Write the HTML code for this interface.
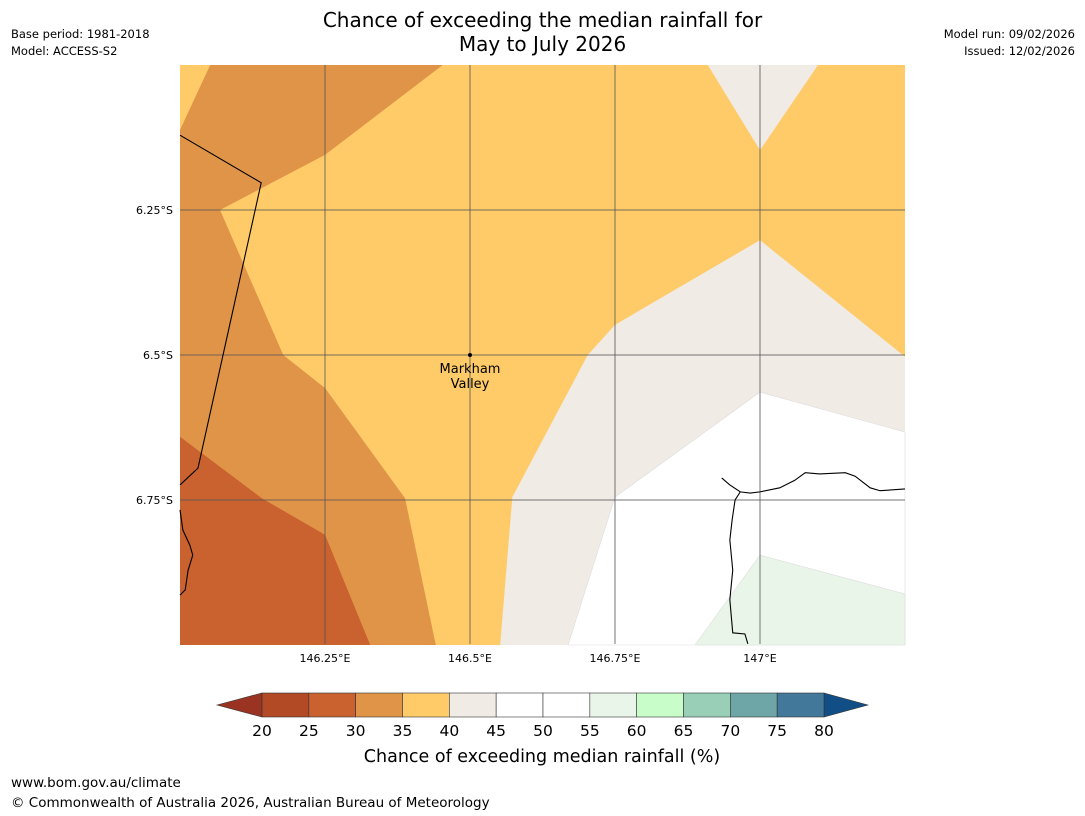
<!DOCTYPE html>
<html><head><meta charset="utf-8"><style>
body{margin:0;background:#fff;font-family:"DejaVu Sans","Liberation Sans",sans-serif;}
#wrap{position:relative;width:1085px;height:816px;overflow:hidden;}
.t{position:absolute;font-size:11.5px;color:#000;}
</style></head><body>
<div id="wrap">
<div class="t" style="left:0;width:1085px;top:8px;text-align:center;font-size:20px;line-height:24px;">Chance of exceeding the median rainfall for<br>May to July 2026</div>
<div class="t" style="left:11px;top:26px;line-height:17px;">Base period: 1981-2018<br>Model: ACCESS-S2</div>
<div class="t" style="right:10px;top:26px;line-height:17px;text-align:right;">Model run: 09/02/2026<br>Issued: 12/02/2026</div>
<div class="t" style="left:11px;top:775px;font-size:13.5px;">www.bom.gov.au/climate</div>
<div class="t" style="left:11px;top:795px;font-size:13.5px;">© Commonwealth of Australia 2026, Australian Bureau of Meteorology</div>
<svg id="svg" width="1085" height="816" style="position:absolute;left:0;top:0"></svg>
</div>
<script>
const regionNames=['r35','r40','r40b','r45','r55','r30','r25'];
const regionColors=['#fecb68','#f0ebe5','#f0ebe5','#ffffff','#e9f5e9','#e09448','#c9622f'];
const regions=[
 [[146,6],[147.25,6],[147.25,7],[146,7]],
 [[146.91,6],[147.1,6],[147,6.147]],
 [[147.25,6.503],[147,6.302],[146.75,6.448],[146.703,6.5],[146.573,6.745],[146.552,7],[147.25,7]],
 [[146.669,7],[146.75,6.745],[147,6.564],[147.25,6.633],[147.25,7]],
 [[146.888,7],[147,6.845],[147.25,6.912],[147.25,7]],
 [[146.052,6],[146.453,6],[146.25,6.155],[146.069,6.25],[146.178,6.5],[146.25,6.557],[146.388,6.747],[146.441,7],[146,7],[146,6.112]],
 [[146,6.641],[146.141,6.747],[146.25,6.81],[146.328,7],[146,7]]
];
const lonTicks=[146.25,146.5,146.75,147];
const lonLabels=['146.25°E','146.5°E','146.75°E','147°E'];
const latTicks=[6.25,6.5,6.75];
const latLabels=['6.25°S','6.5°S','6.75°S'];
const border=[[146,6.121],[146.14,6.203],[146.031,6.695],[146,6.724]];
const coastW=[[146,6.767],[146.005,6.802],[146.017,6.828],[146.022,6.845],[146.014,6.871],[146.009,6.905],[146,6.914]];
const coastE=[[146.934,6.712],[146.948,6.724],[146.966,6.736],[146.983,6.738],[147.0,6.736],[147.034,6.729],[147.06,6.716],[147.078,6.703],[147.103,6.705],[147.147,6.703],[147.164,6.709],[147.19,6.729],[147.207,6.734],[147.25,6.731]];
const coastS=[[146.966,6.736],[146.957,6.75],[146.952,6.784],[146.948,6.819],[146.953,6.871],[146.948,6.922],[146.953,6.979],[146.974,6.981],[146.979,6.998]];
const markLon=146.5, markLat=6.5;
const cbBounds=[20,25,30,35,40,45,50,55,60,65,70,75,80];
const cbColors=['#b24a25','#c9622f','#e09448','#fecb68','#f0ebe5','#ffffff','#ffffff','#e9f5e9','#c8fcc8','#9acfb7','#6ea5a6','#427899'];

const X0=180,X1=905,Y0=65,Y1=644;
const xs=l=>X0+(l-146)*580, ys=l=>Y0+(l-6)*580;
const svg=document.getElementById('svg');
const NS='http://www.w3.org/2000/svg';
function mk(tag,attrs,parent){const e=document.createElementNS(NS,tag);for(const k in attrs)e.setAttribute(k,attrs[k]);(parent||svg).appendChild(e);return e;}
const pts=a=>a.map(p=>xs(p[0])+','+ys(p[1])).join(' ');
regions.forEach((r,i)=>{const p=mk('polygon',{points:pts(r),fill:regionColors[i],stroke:i==3||i==4?'#ddd':'none','stroke-width':0.6});

});
lonTicks.forEach((t,i)=>{const l=mk('line',{x1:xs(t),x2:xs(t),y1:Y0,y2:Y1,stroke:'#555','stroke-width':1,opacity:0.8});


const tx=mk('text',{x:xs(t),y:Y1+18,'text-anchor':'middle','font-size':11});tx.textContent=lonLabels[i];

});
latTicks.forEach((t,i)=>{const l=mk('line',{x1:X0,x2:X1,y1:ys(t),y2:ys(t),stroke:'#555','stroke-width':1,opacity:0.8});


const tx=mk('text',{x:X0-7,y:ys(t)+4,'text-anchor':'end','font-size':11});tx.textContent=latLabels[i];

});
[border,coastW,coastE,coastS].forEach(a=>{const p=mk('polyline',{points:pts(a),fill:'none',stroke:'#000','stroke-width':1.1});

});
const dot=mk('circle',{cx:xs(markLon),cy:ys(markLat),r:2,fill:'#000'});


const lb=mk('text',{x:xs(markLon),y:ys(markLat)+18,'text-anchor':'middle','font-size':13});


const t1=mk('tspan',{x:xs(markLon)},lb);t1.textContent='Markham';
const t2=mk('tspan',{x:xs(markLon),dy:15},lb);t2.textContent='Valley';
const CB0=262,CB1=824,CBT=693,CBB=717;
const cx=v=>CB0+(v-20)/60*(CB1-CB0);
const l1=mk('polygon',{points:`217,705 ${CB0},${CBT} ${CB0},${CBB}`,fill:'#9b3322',stroke:'#333','stroke-width':0.6});


const r1=mk('polygon',{points:`868,705 ${CB1},${CBT} ${CB1},${CBB}`,fill:'#124e86',stroke:'#333','stroke-width':0.6});


cbColors.forEach((c,i)=>{const r=mk('rect',{x:cx(cbBounds[i]),y:CBT,width:cx(cbBounds[i+1])-cx(cbBounds[i]),height:CBB-CBT,fill:c,stroke:'#333','stroke-width':0.6});

});
cbBounds.forEach(b=>{const t=mk('text',{x:cx(b),y:736,'text-anchor':'middle','font-size':15.5});t.textContent=b;

});
const ct=mk('text',{x:542,y:762,'text-anchor':'middle','font-size':17.5});ct.textContent='Chance of exceeding median rainfall (%)';


</script>
</body></html>
